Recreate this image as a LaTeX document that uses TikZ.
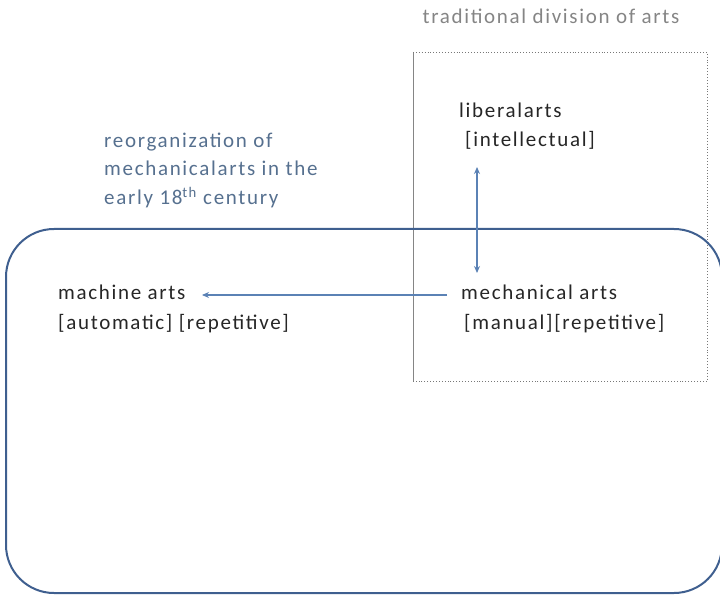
\documentclass[tikz,border=0pt]{standalone}
\usepackage{fontspec}
\setmainfont[LetterSpace=8]{Carlito}
\usetikzlibrary{arrows.meta}
\definecolor{bluebox}{HTML}{3F5F8F}
\definecolor{arrowc}{HTML}{5B82B5}
\definecolor{txt}{HTML}{262626}
\definecolor{graytxt}{HTML}{858585}
\definecolor{bluetxt}{HTML}{56708F}
\tikzset{
  lbl/.style={anchor=base west, inner sep=0pt, text=txt, font=\fontsize{21}{24}\selectfont},
  conn/.style={draw=arrowc, line width=1.1pt, -{Stealth[length=7pt,width=6pt]}},
}
\begin{document}
\begin{tikzpicture}[x=1pt,y=-1pt]
\useasboundingbox (0,0) rectangle (720,596);
% traditional division box
\draw[graytxt, line width=0.7pt] (413,52) -- (413,381);
\draw[graytxt!90!black, dotted, line width=0.9pt] (413,52) -- (707,52) -- (707,381) -- (413,381);
% big rounded box
\draw[bluebox, line width=2pt, rounded corners=48pt] (6,229) rectangle (722,593);
\node[lbl, text=graytxt, anchor=base] (trad) at (551,24) {traditional division of arts};
\node[lbl] (lib1) at (459,118) {liberalarts};
\node[lbl] (lib2) at (465,147) {[intellectual]};
\node[lbl] (mech1) at (461,299) {mechanical arts};
\node[lbl] (mech2) at (464,329) {[manual][repetitive]};
\node[lbl] (mach1) at (58,299) {machine arts};
\node[lbl] (mach2) at (58,329) {[automatic] [repetitive]};
\node[lbl, text=bluetxt, align=left, anchor=base west, font=\fontsize{21}{29}\selectfont] (reorg) at (104,205) {reorganization of\\ mechanicalarts in the\\ early 18\textsuperscript{th} century};
\coordinate (vt) at (477,167);
\coordinate (vb) at (477,273);
\draw[conn, {Stealth[length=7pt,width=6pt]}-{Stealth[length=7pt,width=6pt]}] (vt) -- (vb);
\coordinate (hs) at (447,295);
\coordinate (he) at (202,295);
\draw[conn] (hs) -- (he);
\end{tikzpicture}
\end{document}
